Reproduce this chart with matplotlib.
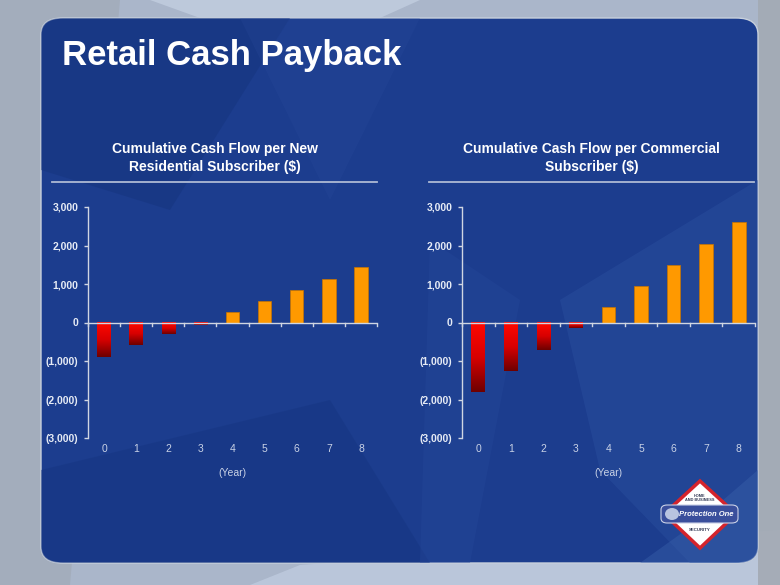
import numpy as np
import matplotlib
matplotlib.use("Agg")
import matplotlib.pyplot as plt
from matplotlib.patches import FancyBboxPatch, Polygon, Ellipse
from matplotlib.colors import LinearSegmentedColormap
from matplotlib.ticker import FuncFormatter
import matplotlib.transforms as mtransforms

plt.rcParams['font.family'] = ['Liberation Sans', 'DejaVu Sans']

W, H = 780, 585

# chart data
years = [0, 1, 2, 3, 4, 5, 6, 7, 8]
residential = [-900, -590, -300, -20, 260, 560, 855, 1140, 1435]
commercial = [-1810, -1265, -710, -150, 390, 945, 1500, 2050, 2615]

page_title = "Retail Cash Payback"
titles = ["Cumulative Cash Flow per New\nResidential Subscriber ($)",
          "Cumulative Cash Flow per Commercial\nSubscriber ($)"]
xlabel = "(Year)"
yticks = [-3000, -2000, -1000, 0, 1000, 2000, 3000]

PANEL = "#1c3d8e"
ORANGE = "#ff9900"
TXT = "#e6ebf5"


def fx(x):
    return x / W


def fy(y):
    return 1 - y / H


def fmt(v, pos=None):
    if v < 0:
        return "({:,.0f})".format(-v)
    return "{:,.0f}".format(v)


fig = plt.figure(figsize=(7.8, 5.85), dpi=100)
fig.patch.set_facecolor("#aab6ca")

# outer background texture
bg = [
    ([(0, 0), (120, 0), (70, 585), (0, 585)], "#a2abb9", 0.8),
    ([(300, 565), (780, 530), (780, 585), (250, 585)], "#bcc8dc", 0.9),
    ([(758, 0), (780, 0), (780, 585), (758, 585)], "#a3aab4", 0.9),
    ([(150, 0), (420, 0), (380, 18), (200, 18)], "#c2cee0", 0.8),
]
for pts, c, a in bg:
    fig.patches.append(Polygon([(fx(x), fy(y)) for x, y in pts], closed=True,
                               transform=fig.transFigure, fc=c, ec="none",
                               alpha=a, zorder=0))

# dark blue panel
panel = FancyBboxPatch((fx(41), fy(563)), fx(758 - 41), (563 - 18) / H,
                       boxstyle="round,pad=0,rounding_size=0.028",
                       transform=fig.transFigure, fc=PANEL,
                       ec="#c8d0dc", lw=1.0, zorder=1)
fig.patches.append(panel)

# faint geometric shapes on the panel, clipped to it
shapes = [
    ([(41, 18), (290, 18), (170, 210), (41, 170)], "#14327c", 0.45),
    ([(560, 300), (758, 180), (758, 563), (690, 563), (600, 470)], "#2d52a2", 0.4),
    ([(700, 520), (758, 470), (758, 563), (640, 563)], "#3c64ae", 0.4),
    ([(41, 470), (330, 400), (430, 563), (41, 563)], "#15347f", 0.45),
    ([(430, 240), (520, 300), (470, 563), (420, 563)], "#27499b", 0.35),
    ([(240, 18), (420, 18), (330, 200)], "#2a4b9c", 0.25),
]
for pts, c, a in shapes:
    p = Polygon([(fx(x), fy(y)) for x, y in pts], closed=True,
                transform=fig.transFigure, fc=c, ec="none", alpha=a, zorder=1.5)
    fig.patches.append(p)
    p.set_clip_path(panel)

fig.text(fx(62), fy(56), page_title, color="white", fontsize=25,
         fontweight="bold", ha="left", va="center", zorder=5)

red_cmap = LinearSegmentedColormap.from_list("redgrad", ["#ff0800", "#d80000", "#6e0000"])

axes_boxes = [(88, 377), (462, 755)]
under_lines = [(52, 377), (429, 754)]
series = [residential, commercial]

for i in range(2):
    x0, x1 = axes_boxes[i]
    ax = fig.add_axes([fx(x0), fy(438), (x1 - x0) / W, (438 - 207) / H], zorder=3)
    ax.patch.set_alpha(0)
    vals = series[i]
    ax.set_xlim(-0.5, 8.5)
    ax.set_ylim(-3000, 3000)

    bars = ax.bar(years, vals, width=0.42, zorder=3)
    for b, v in zip(bars, vals):
        if v >= 0:
            b.set_facecolor(ORANGE)
            b.set_edgecolor("#c87400")
            b.set_linewidth(0.5)
        else:
            b.set_facecolor("none")
            b.set_edgecolor("none")
            grad = np.linspace(0, 1, 100).reshape(-1, 1)
            bx = b.get_x()
            bottom = min(v, -70)
            im = ax.imshow(grad, cmap=red_cmap, aspect="auto",
                           extent=[bx, bx + b.get_width(), bottom, 0],
                           origin="upper", zorder=3)

    # axes styling
    for s in ["top", "right", "bottom"]:
        ax.spines[s].set_visible(False)
    ax.spines["left"].set_color("#d0d6e2")
    ax.spines["left"].set_linewidth(1.0)
    ax.axhline(0, color="#d0d6e2", lw=1.0, zorder=4)
    trans = mtransforms.blended_transform_factory(ax.transData, ax.transAxes)
    for k in range(10):
        ax.plot([k - 0.5, k - 0.5], [0.5, 0.485], color="#d0d6e2", lw=1.0,
                transform=trans, clip_on=False, zorder=4)

    ax.set_yticks(yticks)
    ax.yaxis.set_major_formatter(FuncFormatter(fmt))
    ax.tick_params(axis="y", colors="#d0d6e2", length=3, width=1, labelsize=7.5,
                   labelcolor=TXT, pad=4)
    for t in ax.get_yticklabels():
        t.set_fontweight("bold")
    ax.set_xticks([])
    for k, yr in enumerate(years):
        ax.text(yr, -0.028, str(yr), transform=trans, ha="center", va="top",
                fontsize=7.5, color="#c9d2e6")
    ax.text(4.0, -0.13, xlabel, transform=trans, ha="center", va="top",
            fontsize=7.5, color="#c9d2e6")

    # chart title and underline
    lx0, lx1 = under_lines[i]
    fig.text(fx((lx0 + lx1) / 2), fy(158), titles[i], color="white",
             fontsize=10, fontweight="bold", ha="center", va="center",
             linespacing=1.3, zorder=5)
    fig.lines.append(plt.Line2D([fx(lx0), fx(lx1)], [fy(182), fy(182)],
                                transform=fig.transFigure, color="#aebad4",
                                lw=1.3, zorder=5))

# company badge
cx, cy = 700, 514
diamond = [(cx, 481), (cx + 36, cy), (cx, 548), (cx - 36, cy)]
fig.patches.append(Polygon([(fx(x), fy(y)) for x, y in diamond], closed=True,
                           transform=fig.transFigure, fc="white", ec="#d4242c",
                           lw=2.5, zorder=6))
fig.patches.append(FancyBboxPatch((fx(661), fy(523)), fx(738 - 661), 18 / H,
                                  boxstyle="round,pad=0,rounding_size=0.008",
                                  transform=fig.transFigure, fc="#3a4f9c",
                                  ec="#c9d0e6", lw=0.8, zorder=7))
fig.patches.append(Ellipse((fx(672), fy(514)), 14 / W, 12 / H,
                           transform=fig.transFigure,
                           fc="#b9c4e0", ec="none", zorder=8))
fig.text(fx(706), fy(514), "Protection One", color="white", fontsize=5.5,
         fontweight="bold", style="italic", ha="center", va="center", zorder=8)
fig.text(fx(cx), fy(498), "HOME\nAND BUSINESS", color="#333a55", fontsize=2.8,
         fontweight="bold", ha="center", va="center", zorder=8, linespacing=1.0)
fig.text(fx(cx), fy(530), "SECURITY", color="#333a55", fontsize=3.2,
         fontweight="bold", ha="center", va="center", zorder=8)

fig.savefig("out.png", dpi=100, facecolor=fig.get_facecolor())
